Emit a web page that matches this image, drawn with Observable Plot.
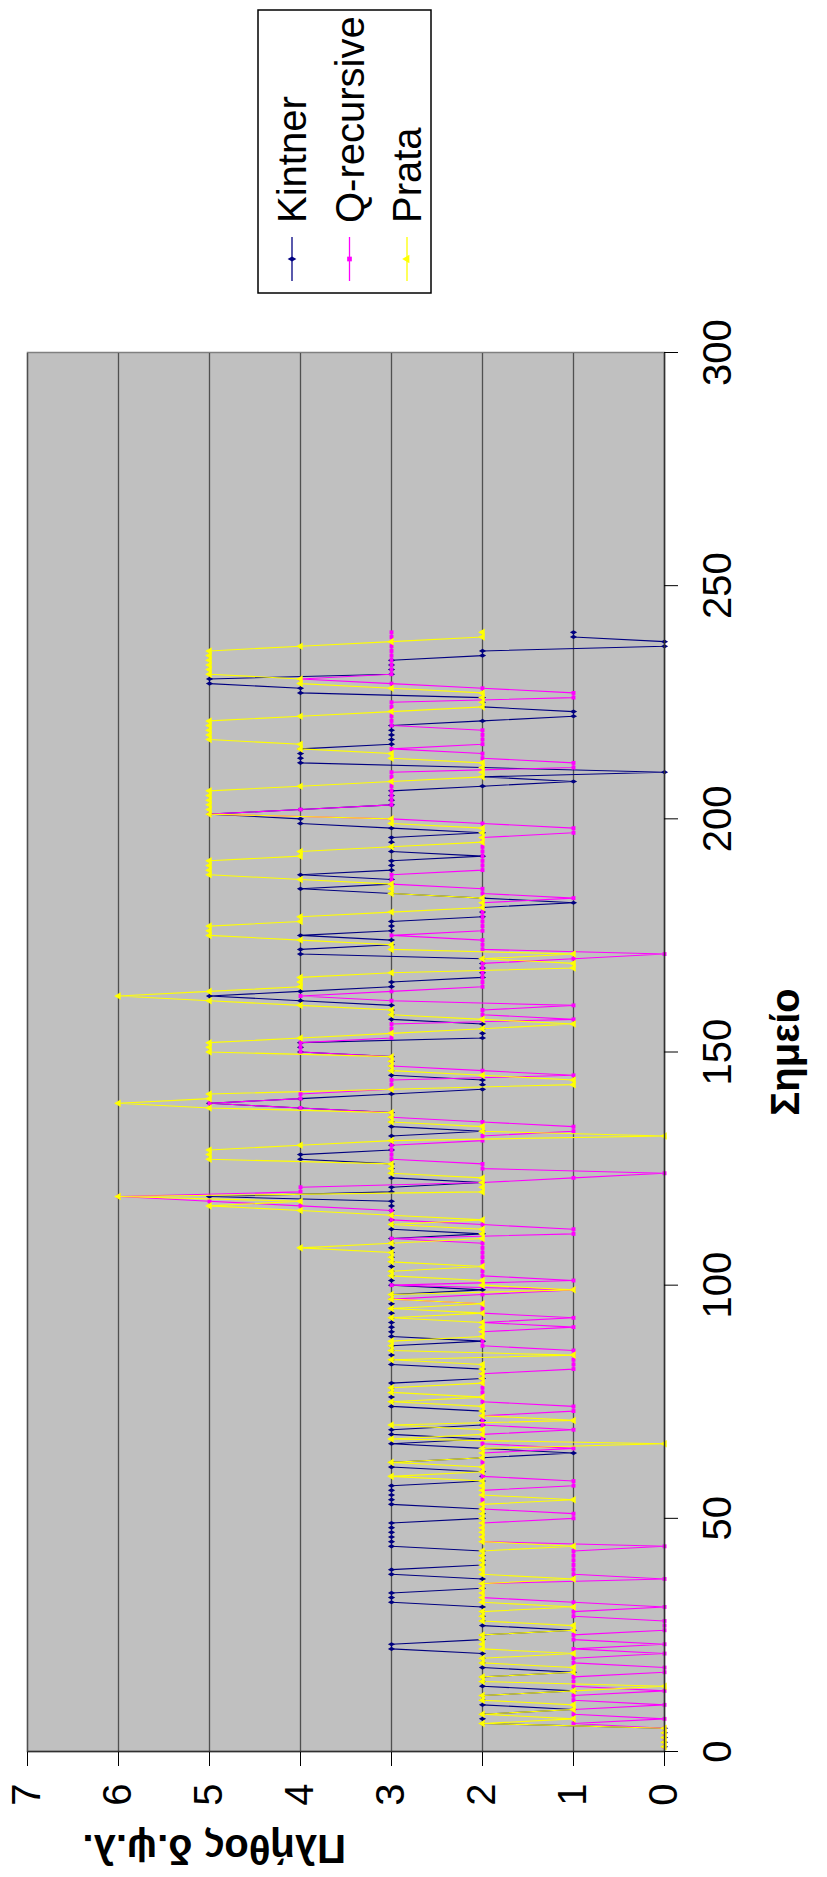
<!DOCTYPE html>
<html>
<head>
<meta charset="utf-8">
<script src="https://cdn.jsdelivr.net/npm/d3@7"></script>
<script src="https://cdn.jsdelivr.net/npm/@observablehq/plot@0.6"></script>
<style>
  html, body { margin: 0; padding: 0; background: #fff; overflow: hidden; }
  body { width: 827px; height: 1877px; position: relative; font-family: Arial, "Liberation Sans", sans-serif; }
  #topline { position: absolute; left: 0; top: 1px; width: 827px; height: 3px; background: #000; }
  #rot { position: absolute; left: 0; top: 0; width: 1877px; height: 827px;
         transform-origin: 0 0; transform: translate(0px, 1877px) rotate(-90deg); }
</style>
</head>
<body>
<div id="topline"></div>
<div id="rot"></div>
<script>
// ---- data ----
const xTicks = [0, 50, 100, 150, 200, 250, 300];
const yTicks = [0, 1, 2, 3, 4, 5, 6, 7];
const xTitle = "Σημείο";
const yTitle = "Πλήθος δ.ψ.λ.";
const seriesNames = ["Kintner", "Q-recursive", "Prata"];
const seriesColors = ["#000080", "#ff00ff", "#ffff00"];
const seriesSymbols = ["diamond", "square", "triangle"];

const kintner = [
  0,0,0,0,0,2,2,2,1,2, 2,2,1,2,2,2,1,2,2,2, 2,3,3,2,2,1,2,2,2,2,
  2,3,3,3,2,2,2,3,3,2, 2,2,2,3,3,3,3,3,3,2, 2,2,3,3,3,3,3,2,2,2,
  3,3,2,1,2,3,2,3,3,2, 2,2,2,3,3,3,3,3,3,2, 2,2,3,3,3,3,3,2,3,3,
  3,3,3,3,3,3,3,3,2,3, 3,3,3,3,3,3,3,3,3,3, 2,3,3,3,3,3,3,3,5,3,
  3,2,3,3,3,3,4,4,3,3, 3,3,2,3,3,3,3,4,5,4, 3,2,2,2,3,3,3,3,3,4,
  4,4,2,2,2,2,3,3,3,3, 4,5,4,3,3,2,2,2,2,2, 4,4,3,3,4,3,3,3,2,2,
  2,1,2,3,4,3,3,4,3,3, 3,2,3,3,3,3,2,3,4,4, 5,4,3,3,3,3,2,1,2,0,
  2,4,4,4,4,3,3,3,3,3, 2,1,1,2,2,2,4,4,5,5, 3,3,3,3,2,2,0,0,1,1
];
const qRecursive = [
  0,0,0,0,0,1,0,1,1,0, 1,1,0,1,1,1,0,0,1,1, 0,1,0,1,1,0,0,0,1,1,
  0,1,2,2,2,2,0,1,1,1, 1,1,1,0,2,2,2,2,2,1, 1,2,2,2,2,2,1,1,2,2,
  2,2,2,2,1,2,2,2,1,2, 2,2,1,1,2,2,2,2,2,2, 2,1,1,1,1,1,2,2,2,2,
  1,2,1,2,2,2,3,2,1,3, 1,2,2,2,2,2,2,2,2,3, 1,1,2,3,3,3,4,5,6,4,
  4,2,1,0,2,2,3,3,3,3, 2,2,1,1,2,3,3,4,5,4, 4,3,3,3,1,2,3,3,3,4,
  4,4,3,3,3,3,1,2,2,1, 3,4,3,2,2,2,2,2,2,1, 0,2,2,2,3,2,2,2,2,2,
  2,2,1,2,2,3,3,3,2,2, 2,2,2,2,2,2,1,1,2,3, 5,4,3,3,3,3,3,3,3,3,
  1,1,2,2,3,2,2,2,2,3, 3,3,3,3,3,1,1,2,3,4, 3,3,3,3,3,3,3,3,3,3
];
const prata = [
  0,0,0,0,0,2,1,2,1,1, 2,2,1,0,2,2,1,1,2,2, 1,2,2,2,2,1,1,2,2,2,
  1,2,2,2,2,2,1,2,2,2, 2,2,2,1,2,2,2,2,2,2, 2,2,2,1,2,2,2,2,3,2,
  2,3,2,2,2,0,3,2,2,3, 1,2,2,2,3,2,3,3,2,2, 2,2,2,3,1,3,3,3,2,2,
  2,2,3,2,3,2,3,3,1,2, 2,3,3,2,3,3,3,4,3,2, 2,2,3,2,3,4,5,4,6,2,
  2,2,2,3,3,3,5,5,5,4, 3,0,2,2,3,3,3,5,6,5, 5,3,1,1,2,3,3,3,3,5,
  5,5,4,3,2,1,2,3,3,4, 5,6,5,4,4,4,3,1,1,2, 1,3,3,4,5,5,5,4,4,3,
  2,2,2,3,3,3,4,5,5,5, 5,4,4,3,2,2,2,2,3,3, 5,5,5,5,5,5,4,3,2,2,
  2,2,3,3,4,4,5,5,5,5, 5,4,3,2,2,2,2,3,4,4, 5,5,5,5,5,5,4,3,2,2
];
const seriesValues = [kintner, qRecursive, prata];

// ---- build ----
const font = "Arial, 'Liberation Sans', sans-serif";
const series = seriesValues.map((vals, s) =>
  vals.map((v, i) => ({ x: i + 1, y: v, name: seriesNames[s] })));

const lineMarks = [];
series.forEach((d, s) => {
  lineMarks.push(Plot.line(d, { x: "x", y: "y", stroke: seriesColors[s], strokeWidth: 1.1 }));
  lineMarks.push(Plot.dot(d, { x: "x", y: "y", symbol: seriesSymbols[s], r: s === 2 ? 2.8 : 2.2,
    fill: seriesColors[s], stroke: "none" }));
});

const chart = Plot.plot({
  width: 1877,
  height: 827,
  marginLeft: 125,
  marginRight: 353,
  marginTop: 27,
  marginBottom: 163,
  style: { fontFamily: font, background: "#fff", maxWidth: "none", overflow: "visible" },
  x: { domain: [0, 300] },
  y: { domain: [0, 7] },
  marks: [
    Plot.frame({ fill: "#c0c0c0", stroke: "#808080", strokeWidth: 1.5 }),
    Plot.ruleY(yTicks.filter(d => d > 0), { stroke: "#505050", strokeWidth: 1.3 }),
    ...lineMarks,
    Plot.ruleY([0], { stroke: "#303030", strokeWidth: 1.5 }),
    Plot.ruleX([0], { stroke: "#303030", strokeWidth: 1.5 }),
    Plot.axisX({ ticks: xTicks, tickSize: 14, tickPadding: 24, fontSize: 40, label: null,
      stroke: "#000", fill: "#000", tickFormat: d => String(d) }),
    Plot.axisY({ ticks: yTicks, tickSize: 14, tickPadding: 18, fontSize: 40, label: null,
      stroke: "#000", fill: "#000", tickFormat: d => String(d) }),
    Plot.text([xTitle], { frameAnchor: "bottom", dy: 134, fontSize: 40, fontWeight: "bold", fill: "#000" }),
    Plot.text([yTitle], { frameAnchor: "left", dx: -96, rotate: -90, fontSize: 40, fontWeight: "bold", fill: "#000" })
  ]
});

// legend
const svg = d3.select(chart);
const lg = svg.append("g").attr("font-family", font).attr("text-anchor", "start");
lg.append("rect").attr("x", 1584).attr("y", 258).attr("width", 283).attr("height", 173)
  .attr("fill", "#fff").attr("stroke", "#000").attr("stroke-width", 1.5);
seriesNames.forEach((name, i) => {
  const cy = 292 + i * 57.5;
  lg.append("line").attr("x1", 1596).attr("x2", 1640).attr("y1", cy).attr("y2", cy)
    .attr("stroke", seriesColors[i]).attr("stroke-width", 1.3);
  lg.append("path").attr("transform", `translate(1618,${cy})`)
    .attr("d", d3.symbol(i === 0 ? d3.symbolDiamond : i === 1 ? d3.symbolSquare : d3.symbolTriangle, i === 2 ? 30 : 22)())
    .attr("fill", seriesColors[i]);
  lg.append("text").attr("x", 1654).attr("y", cy).attr("dy", "0.35em")
    .attr("text-anchor", "start")
    .attr("font-size", 40).attr("fill", "#000").text(name);
});

document.getElementById("rot").appendChild(chart);
</script>
</body>
</html>
